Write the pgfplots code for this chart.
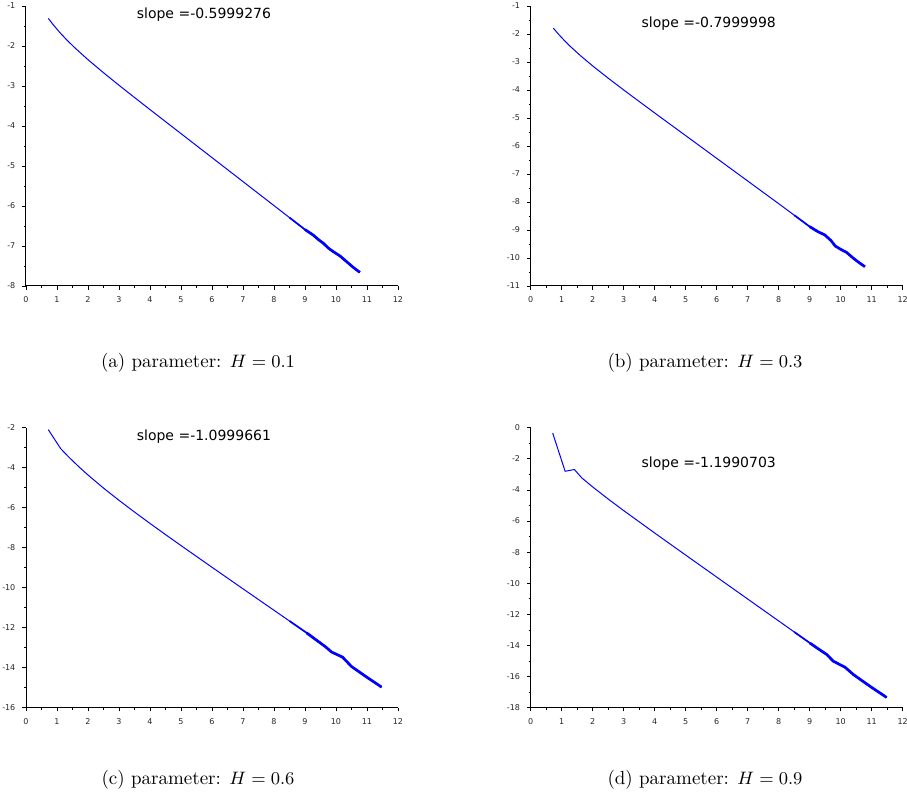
\documentclass[border=0pt]{standalone}
\usepackage{fontspec}
\usepackage{pgfplots}
\pgfplotsset{compat=1.18}
\newfontfamily\djv{DejaVu Sans}

% one table per panel: x, y (log-log decay)
\pgfplotstableread{
x y
0.72 -1.310
0.90 -1.489
1.10 -1.670
1.30 -1.836
1.60 -2.063
2.00 -2.342
2.50 -2.668
3.00 -2.981
3.50 -3.287
4.00 -3.590
5.00 -4.190
6.00 -4.790
7.00 -5.390
8.00 -5.990
8.50 -6.290
9.00 -6.590
9.27 -6.730
9.45 -6.850
9.59 -6.930
9.75 -7.050
9.91 -7.140
10.13 -7.250
10.34 -7.390
10.55 -7.530
10.77 -7.660
}\dataA
\pgfplotstableread{
x y
0.73 -1.790
0.90 -2.011
1.10 -2.248
1.30 -2.466
1.60 -2.769
2.00 -3.141
2.50 -3.578
3.00 -3.999
3.50 -4.411
4.00 -4.820
5.00 -5.630
6.00 -6.440
7.00 -7.250
8.00 -8.060
8.50 -8.470
9.00 -8.880
9.25 -9.050
9.49 -9.180
9.69 -9.380
9.82 -9.570
10.00 -9.690
10.19 -9.800
10.41 -10.010
10.60 -10.170
10.78 -10.310
}\dataB
\pgfplotstableread{
x y
0.72 -2.100
1.12 -3.050
1.40 -3.499
1.70 -3.946
2.00 -4.366
2.50 -5.019
3.00 -5.631
3.50 -6.218
4.00 -6.786
4.50 -7.344
5.00 -7.893
6.00 -8.979
7.00 -10.056
8.00 -11.129
8.50 -11.665
9.05 -12.255
9.35 -12.600
9.65 -12.940
9.86 -13.220
10.21 -13.470
10.50 -13.940
10.99 -14.470
11.47 -14.970
}\dataC
\pgfplotstableread{
x y
0.71 -0.350
1.11 -2.800
1.41 -2.690
1.65 -3.230
2.00 -3.809
2.50 -4.586
3.00 -5.329
4.00 -6.771
5.00 -8.190
6.00 -9.603
7.00 -11.014
8.00 -12.424
8.50 -13.129
9.01 -13.848
9.30 -14.250
9.55 -14.580
9.76 -15.010
10.14 -15.400
10.41 -15.870
10.95 -16.630
11.48 -17.340
}\dataD

\pgfplotsset{
  panel/.style={
    scale only axis, width=186pt, height=140pt,
    anchor=south west,
    axis x line=bottom, axis y line=left,
    axis line style={-, line width=0.5pt, black},
    xmin=0, xmax=12, xtick={0,1,...,12},
    minor x tick num=1, minor y tick num=1,
    tick align=outside,
    major tick length=1.8pt, minor tick length=1.1pt,
    every tick/.style={black, line width=0.4pt},
    tick label style={font=\djv\fontsize{4}{5}\selectfont, black!85},
    /pgf/number format/assume math mode=true,
    clip=false,
  },
  curve/.style={blue, line width=0.5pt},
  mid/.style={blue, line width=0.85pt, restrict x to domain=8.45:12},
  noisy/.style={blue, line width=1.35pt, restrict x to domain=8.98:12},
}
\tikzset{slopelbl/.style={font=\djv\fontsize{7}{8}\selectfont, black}}

\begin{document}
\begin{tikzpicture}
\useasboundingbox (0,0) rectangle (453.5pt,402.5pt);

\begin{axis}[panel, at={(13pt,259.5pt)}, ymin=-8, ymax=-1, ytick={-8,...,-1}]
\addplot[curve] table {\dataA};
\addplot[mid] table {\dataA};
\addplot[noisy] table {\dataA};
\node[slopelbl] at (axis cs:5.74,-1.225) {slope =-0.5999276};
\end{axis}

\begin{axis}[panel, at={(265.35pt,259.5pt)}, ymin=-11, ymax=-1, ytick={-11,...,-1}]
\addplot[curve] table {\dataB};
\addplot[mid] table {\dataB};
\addplot[noisy] table {\dataB};
\node[slopelbl] at (axis cs:5.745,-1.63) {slope =-0.7999998};
\end{axis}

\begin{axis}[panel, at={(13pt,48.65pt)}, ymin=-16, ymax=-2, ytick={-16,-14,...,-2}]
\addplot[curve] table {\dataC};
\addplot[mid] table {\dataC};
\addplot[noisy] table {\dataC};
\node[slopelbl] at (axis cs:5.74,-2.45) {slope =-1.0999661};
\end{axis}

\begin{axis}[panel, at={(265.35pt,48.65pt)}, ymin=-18, ymax=0, ytick={-18,-16,...,0}]
\addplot[curve] table {\dataD};
\addplot[mid] table {\dataD};
\addplot[noisy] table {\dataD};
\node[slopelbl] at (axis cs:5.745,-2.29) {slope =-1.1990703};
\end{axis}

\node[font=\fontsize{9.5}{11}\selectfont] at (99pt,221pt) {(a) parameter: $H=0.1$};
\node[font=\fontsize{9.5}{11}\selectfont] at (352.5pt,221pt) {(b) parameter: $H=0.3$};
\node[font=\fontsize{9.5}{11}\selectfont] at (99pt,12.5pt) {(c) parameter: $H=0.6$};
\node[font=\fontsize{9.5}{11}\selectfont] at (352.5pt,12.5pt) {(d) parameter: $H=0.9$};
\end{tikzpicture}
\end{document}
